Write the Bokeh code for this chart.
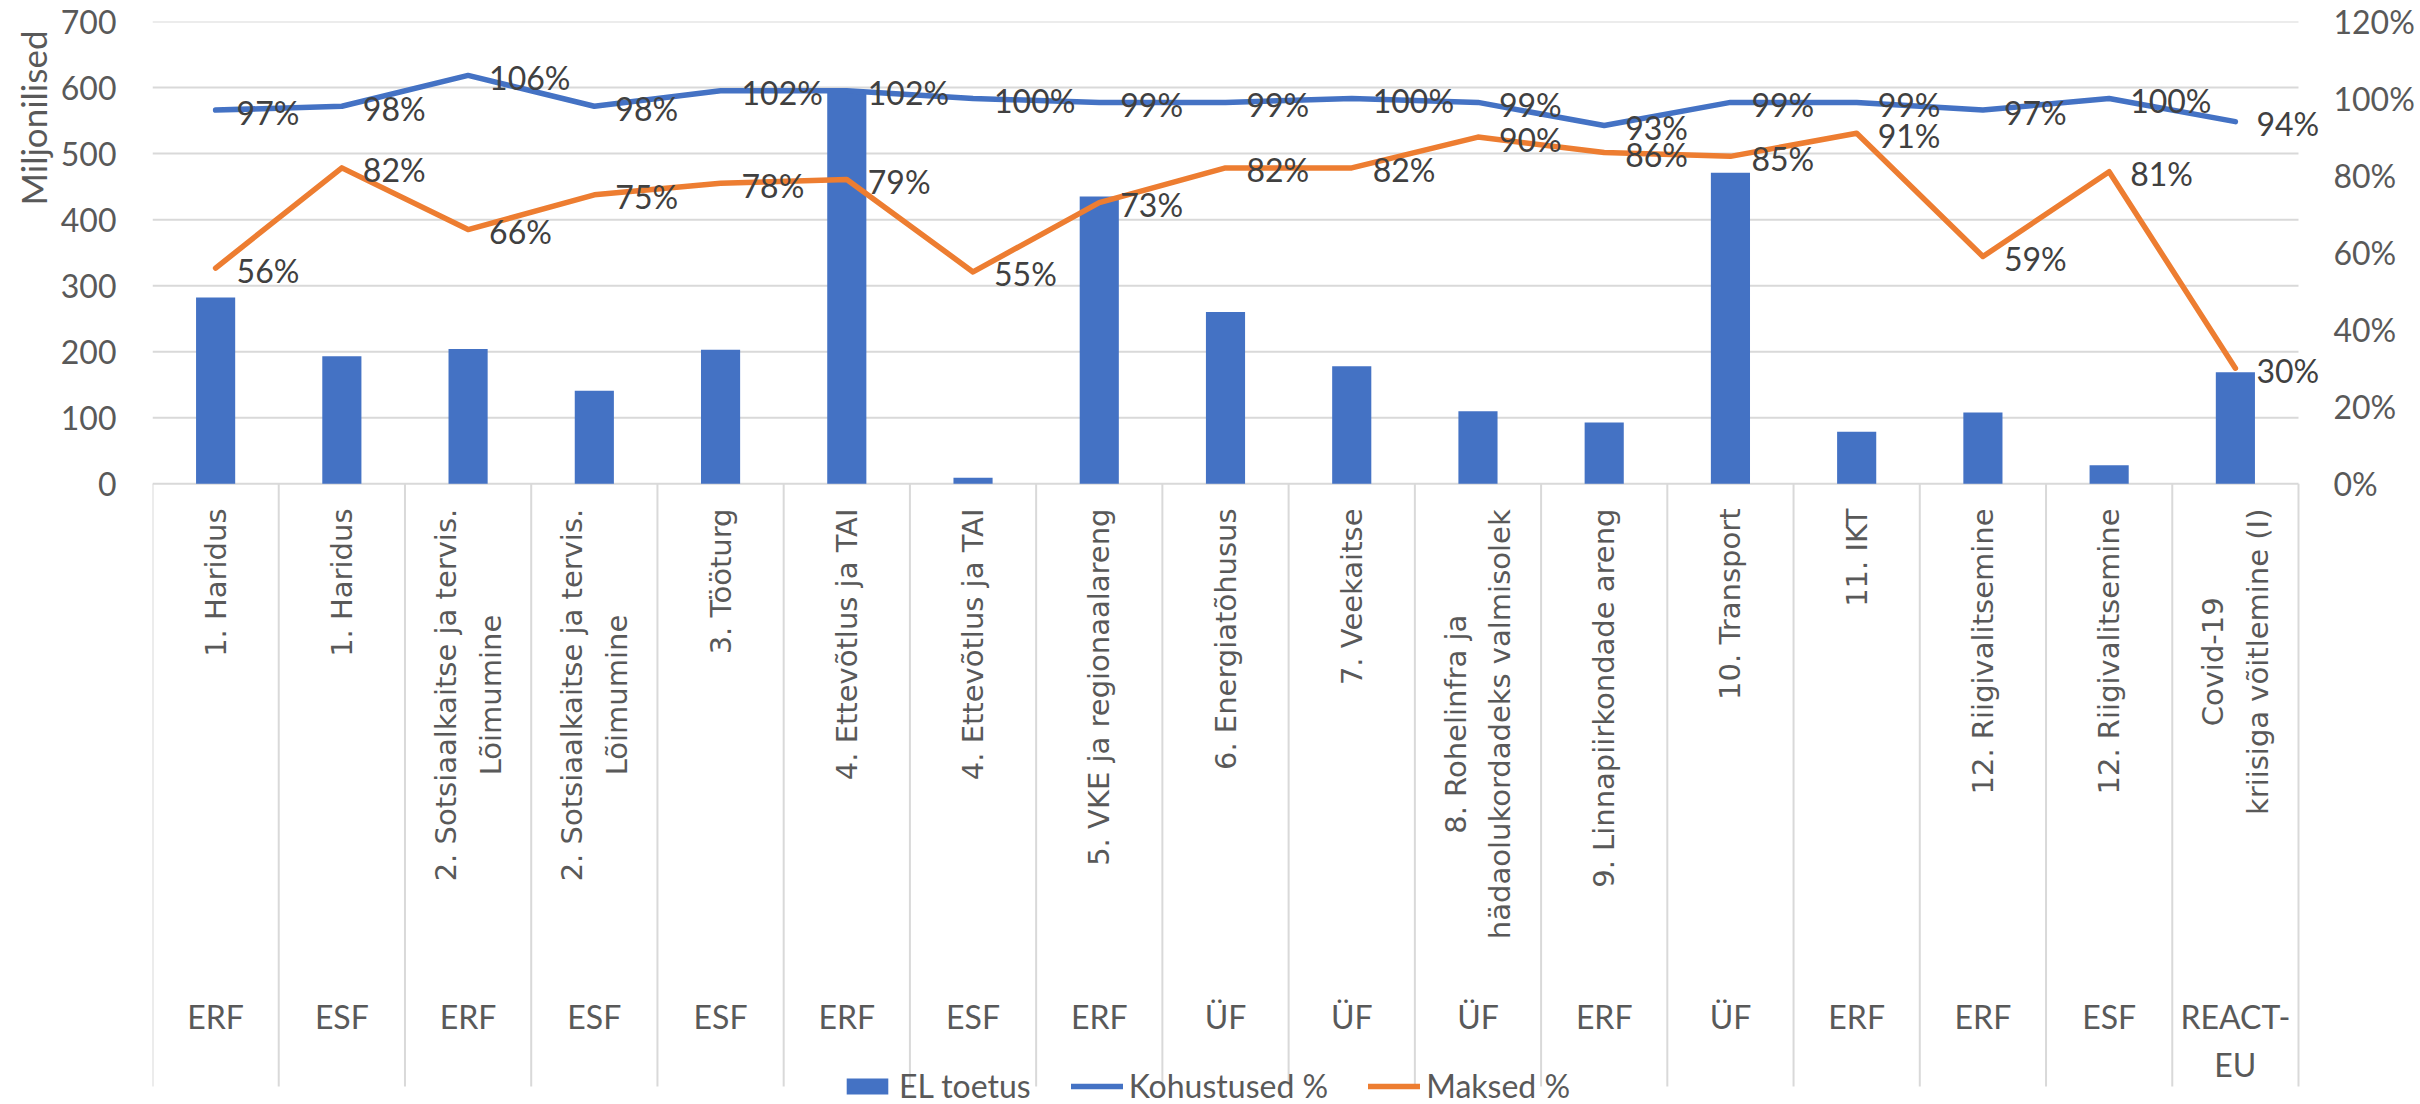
import math
from bokeh.plotting import figure
from bokeh.models import (Range1d, LinearAxis, FixedTicker, NumeralTickFormatter,
                          ColumnDataSource, Legend, LegendItem, Title)
from bokeh.core.properties import value
from bokeh.embed import file_html
from bokeh.resources import INLINE

# ---------------- data ----------------
categories = [
    "1. Haridus", "1. Haridus",
    "2. Sotsiaalkaitse ja tervis.\nLõimumine", "2. Sotsiaalkaitse ja tervis.\nLõimumine",
    "3. Tööturg", "4. Ettevõtlus ja TAI", "4. Ettevõtlus ja TAI",
    "5. VKE ja regionaalareng", "6. Energiatõhusus", "7. Veekaitse",
    "8. Rohelinfra ja\nhädaolukordadeks valmisolek", "9. Linnapiirkondade areng",
    "10. Transport", "11. IKT", "12. Riigivalitsemine", "12. Riigivalitsemine",
    "Covid-19\nkriisiga võitlemine (I)",
]
funds = ["ERF", "ESF", "ERF", "ESF", "ESF", "ERF", "ESF", "ERF", "ÜF", "ÜF", "ÜF",
         "ERF", "ÜF", "ERF", "ERF", "ESF", "REACT-\nEU"]
el_toetus = [282, 193, 204, 141, 203, 595, 9, 435, 260, 178, 110, 93, 471, 79, 108, 28, 169]
kohustused = [0.97, 0.98, 1.06, 0.98, 1.02, 1.02, 1.00, 0.99, 0.99, 1.00, 0.99, 0.93,
              0.99, 0.99, 0.97, 1.00, 0.94]
maksed = [0.56, 0.82, 0.66, 0.75, 0.78, 0.79, 0.55, 0.73, 0.82, 0.82, 0.90, 0.86,
          0.85, 0.91, 0.59, 0.81, 0.30]
left_ticks = [0, 100, 200, 300, 400, 500, 600, 700]
right_ticks = [0.0, 0.2, 0.4, 0.6, 0.8, 1.0, 1.2]

# ---------------- layout helpers ----------------
W, H = 2420, 1104
FL, FR, FT, FB = 152, 2324, 21, 1104
zero_px = 483.3
ppu = (zero_px - FT) / 700.0          # pixels per data unit (left axis)
y_start = 700 - (FB - FT) / ppu
col_w = (2298 - 152) / 17.0
x_end = (FR - FL) / col_w
n = len(categories)
xc = [i + 0.5 for i in range(n)]


def px2y(py):
    return (zero_px - py) / ppu


# approximate DejaVu Sans advance widths (em)
_dv = {' ': .318, '.': .318, '-': .361, '(': .390, ')': .390, 'a': .613, 'b': .635,
       'c': .550, 'd': .635, 'e': .615, 'f': .352, 'g': .635, 'h': .634, 'i': .278,
       'j': .278, 'k': .579, 'l': .278, 'm': .974, 'n': .634, 'o': .612, 'p': .635,
       'r': .411, 's': .521, 't': .392, 'u': .634, 'v': .592, 'ä': .613, 'õ': .612,
       'ö': .612, 'C': .698, 'E': .632, 'H': .752, 'I': .295, 'K': .656, 'L': .557,
       'R': .695, 'S': .635, 'T': .611, 'V': .684, 'A': .684}


def text_len(s, size):
    return sum(_dv.get(ch, .636) for ch in s) * size


CAT_FS = 29
cat_top = px2y(508)

p = figure(width=W, height=H, output_backend="svg", toolbar_location=None,
           x_range=Range1d(0, x_end), y_range=Range1d(y_start, 700),
           x_axis_location=None, y_axis_location="left",
           min_border_left=FL, min_border_right=W - FR, min_border_top=FT,
           min_border_bottom=0)
p.outline_line_color = None
p.grid.visible = False
p.background_fill_color = "white"

la = p.yaxis[0]
la.ticker = FixedTicker(ticks=left_ticks)

p.extra_y_ranges = {"pct": Range1d(y_start / 700 * 1.2, 1.2)}
ra = LinearAxis(y_range_name="pct", ticker=FixedTicker(ticks=right_ticks),
                formatter=NumeralTickFormatter(format="0%"))
p.add_layout(ra, "right")

for ax, so in [(la, 36), (ra, 9)]:
    ax.axis_line_color = None
    ax.major_tick_line_color = None
    ax.minor_tick_line_color = None
    ax.major_tick_out = 0
    ax.major_tick_in = 0
    ax.major_label_standoff = so
    ax.major_label_text_font = "Lato"
    ax.major_label_text_font_size = "32px"
    ax.major_label_text_color = "#595959"

# axis title at the top of the left side
p.add_layout(Title(text="Miljonilised", align="right", offset=9, standoff=7,
                   text_font="Lato", text_font_size="35px", text_font_style="normal",
                   text_color="#595959"), "left")

# gridlines (manual so they stop at the last category)
p.segment(x0=0, x1=n, y0=left_ticks, y1=left_ticks, line_color="#d9d9d9", line_width=2)
# category separators
p.segment(x0=list(range(n + 1)), x1=list(range(n + 1)), y0=0, y1=px2y(1086),
          line_color="#d9d9d9", line_width=2)

bars = p.vbar(x=xc, top=el_toetus, width=0.31, fill_color="#4472C4", line_color=None)

l1 = p.line(xc, kohustused, y_range_name="pct", line_color="#4472C4", line_width=5.5,
            line_join="round", line_cap="round")
l2 = p.line(xc, maksed, y_range_name="pct", line_color="#ED7D31", line_width=5.5,
            line_join="round", line_cap="round")

# data labels
lab_src = ColumnDataSource(dict(
    x=xc + xc, y=kohustused + maksed,
    t=[f"{round(v * 100)}%" for v in kohustused + maksed]))
p.text(x="x", y="y", text="t", source=lab_src, y_range_name="pct", x_offset=21, y_offset=2,
       text_align="left", text_baseline="middle", text_font=value("Lato"),
       text_font_size="32px", text_color="#404040")

# category labels (rotated)
single = [i for i, c in enumerate(categories) if "\n" not in c]
multi = [i for i, c in enumerate(categories) if "\n" in c]
p.text(x=[xc[i] for i in single], y=cat_top, text=[categories[i] for i in single],
       angle=math.pi / 2, text_align="right", text_baseline="middle",
       text_font=value("DejaVu Sans"), text_font_size=f"{CAT_FS}px", text_color="#595959")
p.text(x=[xc[i] for i in multi],
       y=[cat_top - (max(text_len(s, CAT_FS) for s in categories[i].split("\n")) / 2) / ppu
          for i in multi],
       text=[categories[i] for i in multi],
       angle=math.pi / 2, text_align="center", text_baseline="middle",
       text_line_height=1.32,
       text_font=value("DejaVu Sans"), text_font_size=f"{CAT_FS}px", text_color="#595959")

# fund labels
fund_y = [px2y(1016 + (f.count("\n")) * 24) for f in funds]
p.text(x=xc, y=fund_y, text=funds, text_align="center", text_baseline="middle",
       text_line_height=1.25, text_font=value("Lato"), text_font_size="32px",
       text_color="#595959")

legend = Legend(items=[LegendItem(label="EL toetus", renderers=[bars]),
                       LegendItem(label="Kohustused %", renderers=[l1]),
                       LegendItem(label="Maksed %", renderers=[l2])],
                orientation="horizontal", location=(689, -1),
                glyph_width=52, glyph_height=20, label_standoff=6, spacing=40,
                padding=0, margin=0, border_line_alpha=0, background_fill_alpha=0,
                label_text_font="Lato", label_text_font_size="32px",
                label_text_color="#595959")
p.add_layout(legend)

open("out.html", "w").write(file_html(p, INLINE))
